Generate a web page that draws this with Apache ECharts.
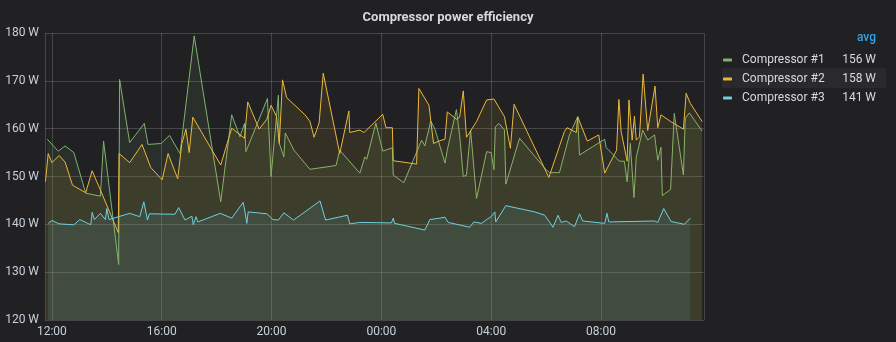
<!DOCTYPE html>
<html>
<head>
<meta charset="utf-8">
<script src="https://cdn.jsdelivr.net/npm/echarts@6/dist/echarts.min.js"></script>
<style>
html,body{margin:0;padding:0;background:#212124;}
#chart{width:896px;height:342px;}
</style>
</head>
<body>
<div id="chart"></div>
<script>
// ---- data ----
const seriesNames = ["Compressor #1", "Compressor #2", "Compressor #3"];
const legendAvg = [156, 158, 141];
const yTicks = [120, 130, 140, 150, 160, 170, 180];

const greenTimes = ["11:50","12:14","12:29","12:48","13:14","13:46","13:53","14:26","14:28","14:50","15:22","15:30","15:59","16:17","16:40","17:11","18:09","18:33","18:51","19:01","19:04","19:51","19:59","20:15","20:17","20:27","20:30","20:49","21:24","22:21","22:29","23:13","23:24","23:28","23:48","00:03","00:24","00:26","00:49","01:28","01:35","01:48","01:57","02:19","02:24","02:44","02:51","02:59","03:06","03:15","03:28","03:50","04:00","04:06","04:09","04:17","04:29","04:32","05:02","06:00","06:08","06:29","06:51","07:09","07:13","08:08","08:11","08:40","08:51","08:57","09:04","09:08","09:12","09:17","09:31","09:42","09:57","10:04","10:11","10:14","10:32","10:40","11:00","11:04","11:13","11:41"];
const greenValues = [157.8,155.3,156.4,155.0,146.5,145.9,157.4,131.6,170.3,157.1,161.1,156.7,156.9,158.6,154.8,179.4,144.7,162.9,158.3,161.1,155.2,166.3,150.0,167.0,156.9,154.1,159.1,155.5,151.5,152.3,155.5,150.7,154.1,153.6,161.2,155.3,156.0,150.3,148.7,157.6,156.4,161.6,159.9,152.8,155.5,164.0,158.7,150.0,150.3,159.7,145.4,155.2,155.0,151.4,160.4,161.1,159.7,148.4,158.0,151.4,150.8,150.8,158.7,162.5,154.5,157.8,156.1,153.2,153.2,148.9,156.9,157.1,145.6,154.1,159.7,157.6,158.7,153.4,156.1,146.0,147.3,163.2,150.3,162.2,163.3,159.5];

const yellowTimes = ["11:46","11:52","12:00","12:16","12:29","12:45","13:14","13:28","13:46","14:25","14:27","14:50","15:17","15:36","16:01","16:14","16:35","16:44","16:53","17:00","17:08","18:09","18:33","19:01","19:08","19:33","19:50","19:59","20:11","20:17","20:24","20:33","21:13","21:24","21:33","21:44","21:53","22:29","22:49","22:51","23:13","23:22","00:03","00:10","00:24","00:26","01:17","01:22","01:44","01:54","02:08","02:19","02:24","02:44","02:51","02:59","03:06","03:28","03:50","04:06","04:29","04:42","04:50","06:06","06:40","06:46","07:06","07:09","07:30","07:55","08:08","08:34","08:39","08:44","08:57","09:01","09:08","09:13","09:17","09:24","09:32","09:42","09:58","10:04","10:11","10:32","11:00","11:06","11:15","11:41"];
const yellowValues = [148.9,154.8,152.9,154.4,153.0,148.2,146.6,151.2,147.2,138.3,154.8,152.9,156.7,151.9,149.3,154.8,149.5,156.9,159.9,155.0,162.4,152.4,160.1,158.0,165.6,159.9,162.0,164.9,162.5,156.9,170.2,166.5,162.9,161.5,158.2,161.2,171.6,154.8,163.7,159.2,159.7,159.2,163.0,160.2,160.2,153.3,152.6,168.4,164.9,156.9,157.5,157.8,163.5,162.0,162.4,167.9,158.2,161.5,166.0,166.2,162.5,155.9,165.1,149.8,159.4,160.2,159.2,162.5,157.4,158.7,150.7,155.5,166.1,159.4,153.2,166.0,157.6,162.6,157.6,158.3,171.4,159.6,168.9,160.2,162.9,161.5,159.9,167.4,165.3,161.5];

const cyanTimes = ["11:52","12:00","12:16","12:48","13:01","13:25","13:28","13:33","13:46","13:57","14:00","14:05","14:50","15:12","15:21","15:29","15:33","16:29","16:37","16:51","17:06","17:09","17:15","17:19","18:08","18:33","18:58","19:02","19:06","19:09","19:50","20:03","20:15","20:27","20:48","21:13","21:46","21:58","22:46","22:51","23:13","00:22","00:26","00:29","01:35","01:46","02:08","02:19","02:26","03:13","03:22","03:39","03:50","04:00","04:08","04:10","04:32","05:35","05:57","06:15","06:26","06:33","06:44","07:02","07:13","07:20","08:08","08:13","08:17","09:57","10:04","10:17","10:33","11:02","11:15"];
const cyanValues = [140.2,140.8,140.1,139.9,141.0,139.9,142.5,141.0,142.3,141.0,143.3,141.0,142.3,141.6,144.7,140.9,142.2,142.1,143.5,140.9,141.7,139.9,141.6,140.5,142.3,141.3,144.6,142.6,140.2,142.6,142.2,141.0,140.9,142.4,140.9,142.6,144.9,140.9,141.9,140.1,140.4,140.3,141.3,140.2,138.8,141.0,141.3,141.5,140.4,139.4,140.5,140.2,141.0,141.6,142.6,140.5,143.9,142.6,141.9,139.4,141.9,140.4,140.7,139.5,142.2,140.7,140.2,142.3,140.5,140.7,140.4,143.3,140.6,140.0,141.3];

// ---- helpers ----
const START_MIN = 11 * 60 + 45; // window starts 11:45 on day 1
function toTs(hhmm) {
  const p = hhmm.split(':').map(Number);
  const mins = p[0] * 60 + p[1];
  const day = mins >= START_MIN ? 1 : 2;
  return new Date(2024, 0, day, p[0], p[1]).getTime();
}
function pairs(times, values) {
  return times.map((t, i) => [toTs(t), values[i]]);
}
function pad(n) { return (n < 10 ? '0' : '') + n; }

const colors = ['#7EB26D', '#EAB839', '#6ED0E0'];
const allData = [pairs(greenTimes, greenValues), pairs(yellowTimes, yellowValues), pairs(cyanTimes, cyanValues)];
const avgMap = {};
seriesNames.forEach((n, i) => avgMap[n] = legendAvg[i]);

const chart = echarts.init(document.getElementById('chart'), null, {renderer: 'canvas'});
const FONT = 'Roboto, "Noto Sans", sans-serif';
const option = {
  backgroundColor: '#212124',
  animation: false,
  textStyle: {fontFamily: FONT},
  title: {
    text: 'Compressor power efficiency',
    left: 'center',
    top: 6,
    textStyle: {color: '#d8d9da', fontSize: 13, fontWeight: 'bold', fontFamily: FONT}
  },
  grid: {left: 45, right: 192, top: 33, bottom: 22, containLabel: false},
  xAxis: {
    type: 'time',
    min: new Date(2024, 0, 1, 11, 45).getTime(),
    max: new Date(2024, 0, 2, 11, 45).getTime(),
    splitNumber: 6,
    axisLine: {show: false},
    axisTick: {show: false},
    axisLabel: {
      color: '#c7d0d9', fontSize: 12, fontFamily: FONT, margin: 6,
      showMinLabel: false, showMaxLabel: false,
      formatter: function (v) { const d = new Date(v); return pad(d.getHours()) + ':' + pad(d.getMinutes()); }
    },
    splitLine: {show: true, lineStyle: {color: 'rgba(255,255,255,0.17)', width: 1}}
  },
  yAxis: {
    type: 'value',
    min: yTicks[0],
    max: yTicks[yTicks.length - 1],
    interval: yTicks[1] - yTicks[0],
    axisLine: {show: false},
    axisTick: {show: false},
    axisLabel: {color: '#c7d0d9', fontSize: 12, fontFamily: FONT, margin: 6, formatter: '{value} W'},
    splitLine: {show: true, lineStyle: {color: 'rgba(255,255,255,0.17)', width: 1}}
  },
  legend: {
    orient: 'vertical',
    left: 723,
    top: 54,
    padding: 0,
    itemGap: 7,
    itemWidth: 9,
    itemHeight: 3,
    icon: 'roundRect',
    selectedMode: false,
    data: seriesNames,
    formatter: function (name) { return '{n|' + name + '}{v|' + avgMap[name] + ' W}'; },
    textStyle: {
      color: '#d8d9da', fontSize: 12, fontFamily: FONT,
      rich: {
        n: {width: 100, padding: [0, 0, 0, 5], color: '#d8d9da', fontSize: 12, fontFamily: FONT, lineHeight: 14},
        v: {width: 34, align: 'right', color: '#d8d9da', fontSize: 12, fontFamily: FONT, lineHeight: 14}
      }
    }
  },
  graphic: [
    {type: 'rect', left: 722, top: 68, z: -1, shape: {width: 164, height: 20}, style: {fill: '#2a2a2d'}},
    {type: 'text', x: 876, y: 38, style: {text: 'avg', fill: '#33a2e5', font: '500 12px Roboto', textAlign: 'right', textVerticalAlign: 'middle'}}
  ],
  series: seriesNames.map((name, i) => ({
    name: name,
    type: 'line',
    data: allData[i],
    showSymbol: false,
    symbol: 'none',
    color: colors[i],
    lineStyle: {width: 1, color: colors[i]},
    areaStyle: {color: colors[i], opacity: 0.1},
    z: 2 + i
  }))
};
chart.setOption(option);
</script>
</body>
</html>
